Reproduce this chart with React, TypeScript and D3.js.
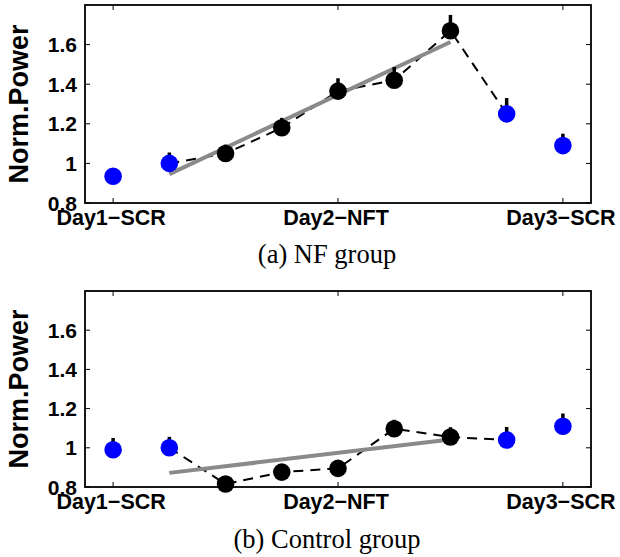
import { scaleLinear, line } from "d3"

const W = 620, H = 557
const ML = 85, MR = 29

// sessions 1..9 across three days
const sessions = [1, 2, 3, 4, 5, 6, 7, 8, 9]
const sessionKind = ["SCR", "SCR", "NFT", "NFT", "NFT", "NFT", "NFT", "SCR", "SCR"]
const xTickPos = [1, 5, 9]
const xTickLabels = ["Day1\u2212SCR", "Day2\u2212NFT", "Day3\u2212SCR"]
const yTicks = [0.8, 1, 1.2, 1.4, 1.6]
const yTickLabels = ["0.8", "1", "1.2", "1.4", "1.6"]

const nfMean = [0.935, 1.0, 1.05, 1.18, 1.365, 1.42, 1.67, 1.25, 1.09]
const nfErr = [0.04, 0.055, 0.045, 0.05, 0.065, 0.067, 0.08, 0.08, 0.06]
const ctrlMean = [0.99, 1.0, 0.815, 0.876, 0.895, 1.097, 1.055, 1.04, 1.11]
const ctrlErr = [0.06, 0.056, 0.04, 0.04, 0.04, 0.046, 0.05, 0.066, 0.065]

// linear trend over the NFT block (start / end session)
const trendX = [2, 7]
const nfTrend = [0.946, 1.613]
const ctrlTrend = [0.872, 1.042]

// dashed connector spans these sessions
const dashFrom = 2, dashTo = 8

const KIND_COLOR: Record<string, string> = { SCR: "#0000ff", NFT: "#000000" }

interface PanelProps {
  top: number
  bottom: number
  mean: number[]
  err: number[]
  trend: number[]
  caption: string
  captionY: number
}

function Panel({ top, bottom, mean, err, trend, caption, captionY }: PanelProps) {
  const x = scaleLinear().domain([0.5, 9.5]).range([ML, W - MR])
  const y = scaleLinear().domain([0.8, 1.8]).range([bottom, top])
  const tl = 5
  const font = "'Liberation Sans', Arial, Helvetica, sans-serif"

  const dashPts = sessions
    .map((s, i) => [s, mean[i]] as [number, number])
    .filter(([s]) => s >= dashFrom && s <= dashTo)
  const lineGen = line<[number, number]>().x(d => x(d[0])).y(d => y(d[1]))
  const trendPts = trendX.map((s, i) => [s, trend[i]] as [number, number])

  return (
    <g>
      <rect x={ML} y={top} width={W - MR - ML} height={bottom - top} fill="#fff" />
      <path d={lineGen(dashPts) ?? ""} fill="none" stroke="#000" strokeWidth={2} strokeDasharray="10,7" />
      <path d={lineGen(trendPts) ?? ""} fill="none" stroke="#8a8a8a" strokeWidth={4} />
      {sessions.map((s, i) => (
        <line key={"e" + s} x1={x(s)} x2={x(s)} y1={y(mean[i])} y2={y(mean[i] + err[i])}
          stroke="#000" strokeWidth={3.5} />
      ))}
      {sessions.map((s, i) => (
        <circle key={"m" + s} cx={x(s)} cy={y(mean[i])} r={8.8} fill={KIND_COLOR[sessionKind[i]]} />
      ))}

      {/* box and ticks */}
      <rect x={ML} y={top} width={W - MR - ML} height={bottom - top} fill="none" stroke="#000" strokeWidth={1.8} />
      {xTickPos.map(t => (
        <g key={"xt" + t}>
          <line x1={x(t)} x2={x(t)} y1={bottom} y2={bottom - tl} stroke="#000" strokeWidth={1} />
          <line x1={x(t)} x2={x(t)} y1={top} y2={top + tl} stroke="#000" strokeWidth={1} />
        </g>
      ))}
      {yTicks.map(t => (
        <g key={"yt" + t}>
          <line x1={ML} x2={ML + tl} y1={y(t)} y2={y(t)} stroke="#000" strokeWidth={1} />
          <line x1={W - MR} x2={W - MR - tl} y1={y(t)} y2={y(t)} stroke="#000" strokeWidth={1} />
        </g>
      ))}

      {yTicks.map((t, i) => (
        <text key={"yl" + t} x={ML - 8} y={y(t)} dy="0.36em" textAnchor="end"
          fontFamily={font} fontWeight="bold" fontSize={21}>{yTickLabels[i]}</text>
      ))}
      {xTickPos.map((t, i) => (
        <text key={"xl" + t} x={x(t) - 2} y={bottom + 22} textAnchor="middle"
          fontFamily={font} fontWeight="bold" fontSize={21.5}>{xTickLabels[i]}</text>
      ))}
      <text transform={`translate(28,${(top + bottom) / 2}) rotate(-90)`} textAnchor="middle"
        fontFamily={font} fontWeight="bold" fontSize={27}>Norm.Power</text>

      <text x={W / 2 + 17} y={captionY} textAnchor="middle"
        fontFamily="'Liberation Serif', 'Times New Roman', serif" fontSize={26.5}>{caption}</text>
    </g>
  )
}

export default function App() {
  return (
    <svg width={W} height={H} style={{ position: "absolute", left: 0, top: 0, background: "#fff" }}>
      <Panel top={5} bottom={203} mean={nfMean} err={nfErr} trend={nfTrend}
        caption="(a) NF group" captionY={263} />
      <Panel top={291} bottom={487} mean={ctrlMean} err={ctrlErr} trend={ctrlTrend}
        caption="(b) Control group" captionY={548} />
    </svg>
  )
}
